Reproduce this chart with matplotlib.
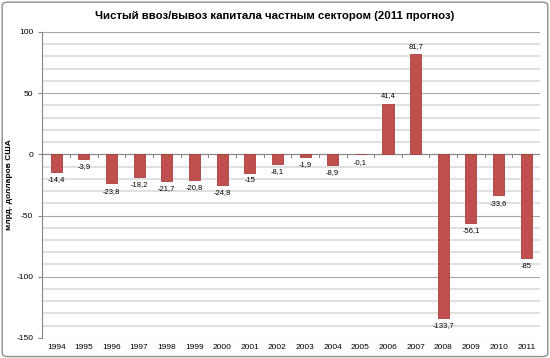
import matplotlib
matplotlib.use("Agg")
import matplotlib.pyplot as plt
from matplotlib.patches import FancyBboxPatch
from matplotlib import ticker

years = [str(y) for y in range(1994, 2012)]
values = [-14.4, -3.9, -23.8, -18.2, -21.7, -20.8, -24.8, -15, -8.1, -1.9,
          -8.9, -0.1, 41.4, 81.7, -133.7, -56.1, -33.6, -85]
labels = ["-14,4", "-3,9", "-23,8", "-18,2", "-21,7", "-20,8", "-24,8", "-15",
          "-8,1", "-1,9", "-8,9", "-0,1", "41,4", "81,7", "-133,7", "-56,1",
          "-33,6", "-85"]

title = "Чистый ввоз/вывоз капитала частным сектором (2011 прогноз)"
ylabel = "млрд. долларов США"

plt.rcParams['font.family'] = ['Liberation Sans', 'DejaVu Sans']
plt.rcParams['axes.unicode_minus'] = False

fig = plt.figure(figsize=(5.5, 3.58), dpi=100)
# outer chart frame, drawn behind the axes
frame = FancyBboxPatch((0.004, 0.004), 0.992, 0.99, boxstyle="round,pad=0,rounding_size=0.01",
                       transform=fig.transFigure, facecolor="white", edgecolor="#8c8c8c",
                       lw=1, zorder=-5)
fig.patches.append(frame)

ax = fig.add_axes([0.077, 0.056, 0.905, 0.855])
ax.set_facecolor("none")
x = list(range(len(years)))
ax.bar(x, values, width=0.4, color="#C0504D", edgecolor="#A8403D", lw=0.6, zorder=3)

ax.set_ylim(-150, 100)
ax.set_xlim(-0.5, len(years) - 0.5)
ax.yaxis.set_major_locator(ticker.MultipleLocator(50))
ax.yaxis.set_minor_locator(ticker.MultipleLocator(10))
ax.grid(which="minor", axis="y", color="#e0e0e0", lw=1.4, zorder=0)
ax.grid(which="major", axis="y", color="#a6a6a6", lw=0.8, zorder=1)
ax.tick_params(axis="y", which="major", labelsize=6, length=3, color="#868686")
ax.tick_params(axis="y", which="minor", length=0)
ax.set_xticks(x)
ax.set_xticklabels(years, fontsize=6)
ax.tick_params(axis="x", length=0, pad=4)

# category separator ticks on zero line
for i in range(len(years) + 1):
    ax.plot([i - 0.5, i - 0.5], [0, -2.5], color="#868686", lw=0.8, zorder=2)
ax.axhline(0, color="#868686", lw=0.8, zorder=2)

for s in ["top", "right", "bottom"]:
    ax.spines[s].set_visible(False)
ax.spines["left"].set_color("#868686")

for xi, v, lab in zip(x, values, labels):
    if v >= 0:
        ax.annotate(lab, (xi, v), xytext=(0, 3), textcoords="offset points",
                    ha="center", va="bottom", fontsize=5.5)
    else:
        ax.annotate(lab, (xi, v), xytext=(0, -3), textcoords="offset points",
                    ha="center", va="top", fontsize=5.5)

ax.set_ylabel(ylabel, fontsize=6, fontweight="bold")
ax.yaxis.set_label_coords(-0.058, 0.5)
fig.text(0.5, 0.955, title, ha="center", va="center", fontsize=8.2, fontweight="bold")

fig.savefig("out.png", dpi=100)
